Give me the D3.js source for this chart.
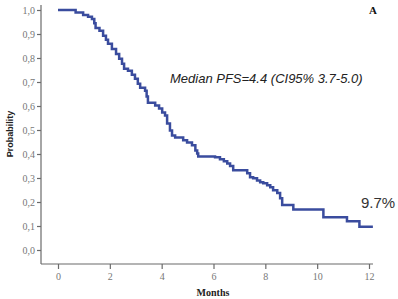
<!DOCTYPE html>
<html><head><meta charset="utf-8">
<script src="https://cdn.jsdelivr.net/npm/d3@7"></script>
<style>body{margin:0;background:#fff}svg{display:block}</style>
</head><body>
<svg id="c" width="398" height="299"></svg>
<script>
const times = [0,0.68,0.97,1.16,1.31,1.40,1.45,1.60,1.74,1.85,1.93,2.08,2.24,2.36,2.47,2.55,2.70,2.85,2.97,3.08,3.17,3.36,3.42,3.47,3.75,3.90,4.02,4.13,4.21,4.32,4.40,4.52,4.83,4.98,5.17,5.30,5.37,5.41,6.06,6.25,6.40,6.53,6.64,6.76,7.30,7.41,7.53,7.68,7.80,7.92,8.07,8.19,8.30,8.46,8.57,8.65,9.08,10.24,11.15,11.63,12.15];
const survival = [1.0,0.99,0.979,0.972,0.963,0.945,0.925,0.914,0.893,0.876,0.859,0.838,0.817,0.797,0.776,0.755,0.747,0.73,0.714,0.693,0.676,0.664,0.64,0.614,0.602,0.59,0.573,0.56,0.527,0.498,0.477,0.469,0.457,0.448,0.436,0.415,0.402,0.39,0.386,0.378,0.37,0.36,0.35,0.332,0.32,0.303,0.299,0.29,0.282,0.278,0.27,0.261,0.249,0.237,0.216,0.187,0.169,0.136,0.12,0.097,0.097];
const xTicks = [0,2,4,6,8,10,12];
const yTicks = [0,0.1,0.2,0.3,0.4,0.5,0.6,0.7,0.8,0.9,1.0];
const xLabel = "Months", yLabel = "Probability";
const annotation = "Median PFS=4.4 (CI95% 3.7-5.0)";
const endLabel = "9.7%";
const panel = "A";

const svg = d3.select("#c");
const x = d3.scaleLinear().domain([0,12]).range([58,369]);
const y = d3.scaleLinear().domain([0,1]).range([250,10]);
const axisColor = "#6b6b6b";

// axis lines
svg.append("line").attr("x1",41).attr("x2",41).attr("y1",5).attr("y2",264).attr("stroke",axisColor).attr("stroke-width",1.2);
svg.append("line").attr("x1",41).attr("x2",373).attr("y1",264).attr("y2",264).attr("stroke",axisColor).attr("stroke-width",1.2);

const yAxis = svg.append("g").attr("transform","translate(41,0)")
  .call(d3.axisLeft(y).tickValues(yTicks).tickSize(4).tickSizeOuter(0).tickFormat(d=>d3.format(".1f")(d).replace(".",",")));
yAxis.select(".domain").remove();
yAxis.selectAll("line").attr("stroke",axisColor).attr("stroke-width",1.2);
yAxis.selectAll("text").attr("x",-6).attr("font-family","Liberation Serif").attr("font-size",10).attr("fill","#777");

const xAxis = svg.append("g").attr("transform","translate(0,264)")
  .call(d3.axisBottom(x).tickValues(xTicks).tickSize(5).tickSizeOuter(0));
xAxis.select(".domain").remove();
xAxis.selectAll("line").attr("stroke",axisColor).attr("stroke-width",1.2);
xAxis.selectAll("text").attr("y",9).attr("font-family","Liberation Serif").attr("font-size",10).attr("fill","#777");

svg.append("text").attr("x",213).attr("y",296).attr("text-anchor","middle")
  .attr("font-family","Liberation Serif").attr("font-weight","bold").attr("font-size",10).attr("fill","#222").text(xLabel);
svg.append("text").attr("transform","translate(13,134) rotate(-90)").attr("text-anchor","middle")
  .attr("font-family","Liberation Sans").attr("font-weight","bold").attr("font-size",9).attr("fill","#222").text(yLabel);

const data = times.map((t,i)=>({t, s: survival[i]}));
const line = d3.line().x(d=>x(d.t)).y(d=>y(d.s)).curve(d3.curveStepAfter);
svg.append("path").datum(data).attr("d",line).attr("fill","none")
  .attr("stroke","#3a4c9e").attr("stroke-width",2.5);

svg.append("text").attr("x",170).attr("y",83).attr("font-family","Liberation Sans").attr("font-style","italic")
  .attr("font-size",13).attr("fill","#222").text(annotation);
svg.append("text").attr("x",361).attr("y",208).attr("font-family","Liberation Sans")
  .attr("font-size",15).attr("fill","#333").text(endLabel);
svg.append("text").attr("x",373).attr("y",14).attr("text-anchor","middle").attr("font-family","Liberation Serif")
  .attr("font-weight","bold").attr("font-size",11).attr("fill","#111").text(panel);
</script>
</body></html>
